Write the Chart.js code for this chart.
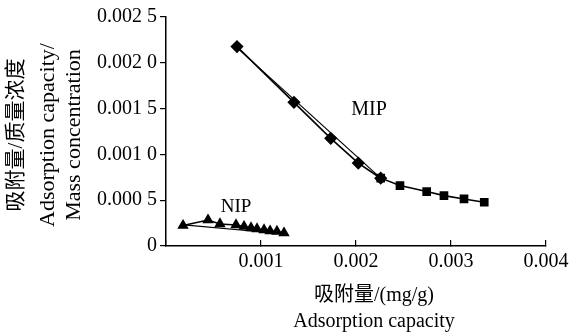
<!DOCTYPE html>
<html>
<head>
<meta charset="utf-8">
<script src="https://cdn.jsdelivr.net/npm/chart.js@4.4.0/dist/chart.umd.min.js"></script>
<style>
  html, body { margin: 0; padding: 0; background: #fff; }
</style>
</head>
<body>
<canvas id="myChart" width="569" height="335"></canvas>
<script>
// MIP, high affinity part (diamonds)
var mipHighX = [0.000747, 0.001347, 0.001734, 0.002024, 0.00226];
var mipHighY = [0.002177, 0.001568, 0.001175, 0.000905, 0.00074];
// straight fit drawn next to the diamonds
var mipFitX = [0.000758, 0.002265];
var mipFitY = [0.002155, 0.000735];
// MIP, low affinity part (squares)
var mipLowX = [0.00226, 0.002463, 0.002744, 0.002926, 0.003137, 0.00335];
var mipLowY = [0.000741, 0.00066, 0.000594, 0.00055, 0.000514, 0.000478];
// NIP (triangles)
var nipX = [0.000179, 0.000442, 0.000568, 0.000737, 0.000821, 0.000895, 0.000958, 0.001032, 0.001095, 0.001168, 0.001242];
var nipY = [0.000224, 0.000284, 0.000241, 0.00023, 0.000213, 0.000197, 0.000186, 0.000175, 0.000164, 0.000159, 0.000142];
var nipFitX = [0.000189, 0.001253];
var nipFitY = [0.00023, 0.000131];

// ticks
var xTickValues = [0, 0.001, 0.002, 0.003, 0.004];
var xTickLabels = ["", "0.001", "0.002", "0.003", "0.004"];
var yTickValues = [0, 0.0005, 0.001, 0.0015, 0.002, 0.0025];
var yTickLabels = ["0", "0.000 5", "0.001 0", "0.001 5", "0.002 0", "0.002 5"];

function pts(xs, ys) {
    return xs.map(function(x, i){ return {x: x, y: ys[i]}; });
}

var serif = '"Liberation Serif", "Noto Sans CJK SC", serif';

// axis titles and the MIP / NIP labels
const textPlugin = {
    id: 'texts',
    afterDraw(chart) {
        const ctx = chart.ctx;
        const xs = chart.scales.x, ys = chart.scales.y;
        ctx.save();
        ctx.fillStyle = '#000';
        ctx.textAlign = 'center';
        ctx.textBaseline = 'middle';

        ctx.font = '20px ' + serif;
        ctx.fillText('MIP', xs.getPixelForValue(0.002137), ys.getPixelForValue(0.001488));
        ctx.font = '19px ' + serif;
        ctx.fillText('NIP', xs.getPixelForValue(0.000737), ys.getPixelForValue(0.000427));

        // x title
        ctx.font = '20px ' + serif;
        ctx.fillText('吸附量/(mg/g)', 374, 296);
        ctx.fillText('Adsorption capacity', 374, 322);

        // y title, rotated
        ctx.translate(0, 135);
        ctx.rotate(-Math.PI / 2);
        ctx.font = '21px ' + serif;
        ctx.fillText('吸附量/质量浓度', 0, 16);
        ctx.font = '22px ' + serif;
        ctx.fillText('Adsorption capacity/', 0, 48);
        ctx.fillText('Mass concentration', 0, 74);
        ctx.restore();
    }
};

new Chart("myChart", {
    type: "scatter",
    data: {
        datasets: [
            {
                label: "MIP fit",
                data: pts(mipFitX, mipFitY),
                showLine: true,
                borderColor: "#000",
                borderWidth: 1.2,
                pointRadius: 0
            },
            {
                label: "MIP high",
                data: pts(mipHighX, mipHighY),
                showLine: true,
                borderColor: "#000",
                backgroundColor: "#000",
                borderWidth: 1.6,
                pointStyle: "rectRot",
                pointRadius: 5.5
            },
            {
                label: "MIP low",
                data: pts(mipLowX, mipLowY),
                showLine: true,
                borderColor: "#000",
                backgroundColor: "#000",
                borderWidth: 1.6,
                pointStyle: "rect",
                pointRadius: 5
            },
            {
                label: "NIP fit",
                data: pts(nipFitX, nipFitY),
                showLine: true,
                borderColor: "#000",
                borderWidth: 1.2,
                pointRadius: 0
            },
            {
                label: "NIP",
                data: pts(nipX, nipY),
                showLine: true,
                borderColor: "#000",
                backgroundColor: "#000",
                borderWidth: 1.6,
                pointStyle: "triangle",
                pointRadius: 5
            }
        ]
    },
    options: {
        responsive: false,
        animation: false,
        devicePixelRatio: 1,
        layout: { padding: { top: 17, right: 23, left: 0, bottom: 0 } },
        plugins: {
            legend: { display: false },
            tooltip: { enabled: false }
        },
        scales: {
            x: {
                type: "linear",
                min: 0,
                max: 0.004,
                afterBuildTicks: function(scale){
                    scale.ticks = xTickValues.map(function(v){ return {value: v}; });
                },
                afterFit: function(scale){
                    scale.height = 89;
                    scale.paddingLeft = 0;
                    scale.paddingRight = 0;
                },
                border: { display: true, color: "#000", width: 1.5 },
                grid: { drawOnChartArea: false, color: "#000", lineWidth: 1.2, tickLength: -6 },
                ticks: {
                    color: "#000",
                    padding: 10,
                    maxRotation: 0,
                    autoSkip: false,
                    font: { family: serif, size: 20 },
                    callback: function(v, i){ return xTickLabels[i]; }
                }
            },
            y: {
                type: "linear",
                min: 0,
                max: 0.0025,
                afterBuildTicks: function(scale){
                    scale.ticks = yTickValues.map(function(v){ return {value: v}; });
                },
                afterFit: function(scale){
                    scale.width = 166;
                    scale.paddingTop = 0;
                    scale.paddingBottom = 0;
                },
                border: { display: true, color: "#000", width: 1.5 },
                grid: { drawOnChartArea: false, color: "#000", lineWidth: 1.2, tickLength: 6 },
                ticks: {
                    color: "#000",
                    padding: 3,
                    autoSkip: false,
                    font: { family: serif, size: 20 },
                    callback: function(v, i){ return yTickLabels[i]; }
                }
            }
        }
    },
    plugins: [textPlugin]
});
</script>
</body>
</html>
